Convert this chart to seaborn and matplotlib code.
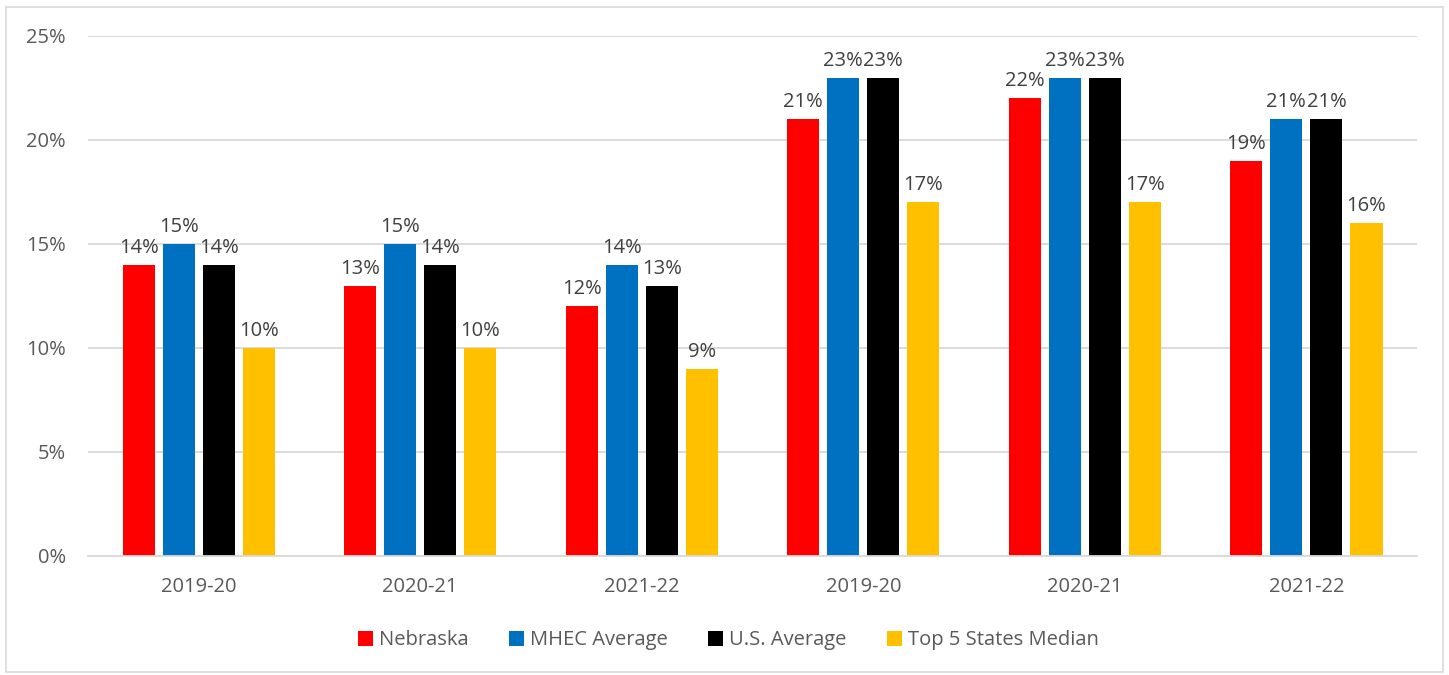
import numpy as np
import pandas as pd
import matplotlib
matplotlib.use("Agg")
import matplotlib.pyplot as plt
from matplotlib.patches import Rectangle
import seaborn as sns

# Chart data
years = ["2019-20", "2020-21", "2021-22", "2019-20", "2020-21", "2021-22"]
series = ["Nebraska", "MHEC Average", "U.S. Average", "Top 5 States Median"]
nebraska = [14, 13, 12, 21, 22, 19]
mhec = [15, 15, 14, 23, 23, 21]
us_avg = [14, 14, 13, 23, 23, 21]
top5 = [10, 10, 9, 17, 17, 16]
colors = ["#FF0000", "#0070C0", "#000000", "#FFC000"]

# Long format; groups get unique ids since year labels repeat
groups = [f"g{i}" for i in range(len(years))]
df = pd.DataFrame({
    "group": groups * 4,
    "series": np.repeat(series, len(years)),
    "value": nebraska + mhec + us_avg + top5,
})

sns.set_style("white")
plt.rcParams["font.family"] = ["Open Sans", "DejaVu Sans"]

fig = plt.figure(figsize=(14.49, 6.75), dpi=100)
ax = fig.add_axes([0.0607, 0.1763, 0.9173, 0.7704])

sns.barplot(data=df, x="group", y="value", hue="series", order=groups,
            hue_order=series, palette=colors, width=0.724, gap=0.2,
            saturation=1, linewidth=0, ax=ax, legend=True)

# Value labels
for cont in ax.containers:
    ax.bar_label(cont, fmt="%d%%", padding=5, fontsize=14.5, color="#404040")

ax.set_xlim(-0.5, 5.5)
ax.set_ylim(0, 25)
ax.set_yticks(range(0, 26, 5))
ax.set_yticklabels([f"{v}%" for v in range(0, 26, 5)])
ax.set_xticks(range(len(years)))
ax.set_xticklabels(years)
ax.set_xlabel("")
ax.set_ylabel("")
ax.tick_params(axis="both", length=0, labelsize=14.5, labelcolor="#595959")
ax.tick_params(axis="x", pad=15)
ax.tick_params(axis="y", pad=16)
ax.yaxis.grid(True, color="#D9D9D9", linewidth=1.3)
ax.set_axisbelow(True)
for side in ["top", "right", "left"]:
    ax.spines[side].set_visible(False)
ax.spines["bottom"].set_color("#D9D9D9")
ax.spines["bottom"].set_linewidth(1.3)

# Legend at the bottom
handles, labels = ax.get_legend_handles_labels()
ax.legend(handles, labels, loc="center", bbox_to_anchor=(0.482, -0.162), ncol=4,
          frameon=False, fontsize=14.5, handlelength=0.75, handleheight=0.75,
          handletextpad=0.3, columnspacing=2.0, labelcolor="#595959")

# Thin border around the chart area
fig.patches.append(Rectangle((0.004, 0.004), 0.992, 0.986, transform=fig.transFigure,
                             fill=False, edgecolor="#D9D9D9", linewidth=1.2))

fig.savefig("out.png", dpi=100)
